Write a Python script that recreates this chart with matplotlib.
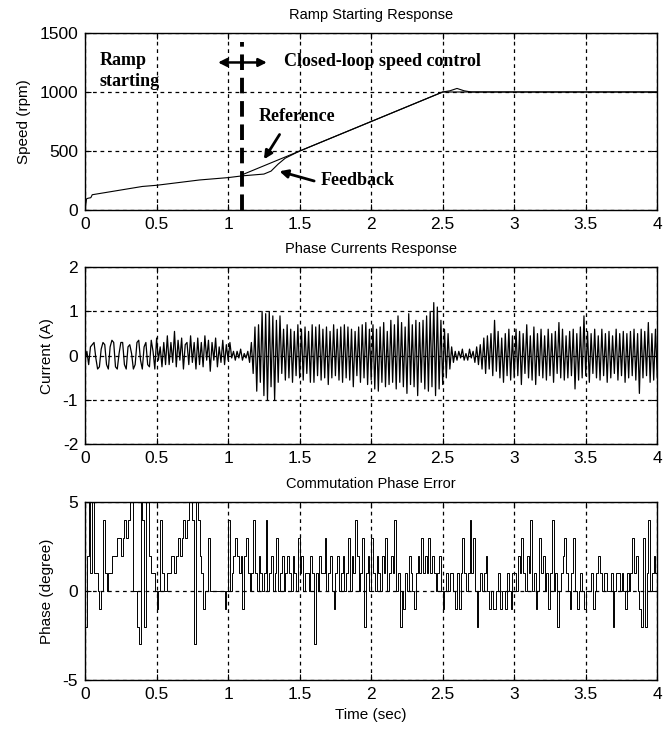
import numpy as np
import matplotlib
matplotlib.use("Agg")
import matplotlib.pyplot as plt

plt.rcParams['font.family'] = ['Liberation Sans Narrow', 'Liberation Sans', 'DejaVu Sans']
plt.rcParams['axes.unicode_minus'] = False

# Speed response (rpm), polyline vertices
fb_time = [0, 0.01, 0.02, 0.04, 0.05, 0.1, 0.2, 0.3, 0.35, 0.4, 0.5, 0.6, 0.7, 0.8,
           0.9, 1.0, 1.1, 1.2, 1.25, 1.3, 1.35, 1.4, 1.5, 1.7, 2.0, 2.2, 2.4, 2.5,
           2.55, 2.6, 2.65, 2.7, 3.0, 3.5, 4.0]
fb_speed = [0, 95, 100, 105, 130, 140, 160, 180, 190, 200, 210, 225, 240, 255,
            265, 275, 290, 300, 305, 330, 390, 440, 500, 600, 750, 850, 950, 1000,
            1010, 1030, 1010, 1000, 1000, 1000, 1000]
ref_time = [1.1, 2.5, 4.0]
ref_speed = [300, 1000, 1000]

# Phase current (A), sampled every 12.5 ms
current = [
    -0.1, 0.1, -0.2, 0.2, 0.25, 0.3, -0.05, -0.3, -0.25, 0.15, 0.3, 0.25, -0.2, -0.3, 0.2, 0.35,
    0.3, -0.25, -0.3, 0.05, 0.3, 0.3, -0.2, -0.3, 0.2, 0.25, 0.05, -0.3, -0.2, 0.3, 0.35, -0.1,
    -0.3, 0.2, 0.3, -0.2, -0.25, 0.35, 0.1, -0.3, 0.4, -0.1, 0.2, -0.25, 0.3, -0.2, 0.45, -0.2,
    0.3, -0.15, 0.55, -0.25, 0.35, -0.1, 0.4, -0.3, 0.25, 0.3, -0.2, 0.45, -0.15, 0.3, -0.3, 0.4,
    -0.2, 0.3, -0.25, 0.45, -0.1, 0.35, -0.35, 0.3, -0.1, 0.4, -0.25, 0.2, -0.15, 0.35, -0.2, 0.25,
    -0.1, 0.3, -0.05, 0.1, -0.1, 0.1, -0.05, 0.15, -0.1, 0.05, -0.05, 0.1, -0.15, 0.3, -0.4, 0.65,
    -0.8, 0.7, -0.6, 1.0, -0.9, 0.95, -1.0, 1.0, -0.7, 0.9, -1.0, 0.8, -0.6, 0.9, -0.4, 0.6,
    -0.55, 0.7, -0.5, 0.6, -0.6, 0.55, -0.45, 0.7, -0.5, 0.6, -0.55, 0.65, -0.4, 0.55, -0.6, 0.7,
    -0.6, 0.65, -0.45, 0.7, -0.55, 0.6, -0.5, 0.65, -0.65, 0.55, -0.5, 0.7, -0.45, 0.6, -0.55, 0.65,
    -0.6, 0.7, -0.5, 0.65, -0.55, 0.6, -0.7, 0.55, -0.45, 0.65, -0.6, 0.7, -0.5, 0.75, -0.65, 0.6,
    -0.55, 0.7, -0.75, 0.6, -0.8, 0.65, -0.6, 0.75, -0.7, 0.55, -0.65, 0.8, -0.6, 0.7, -0.75, 0.9,
    -0.6, 0.75, -0.7, 0.65, -0.85, 0.95, -0.65, 0.7, -0.7, 0.8, -0.9, 0.75, -0.6, 0.8, -0.75, 0.9,
    -0.8, 1.0, -0.7, 1.2, -0.9, 1.1, -0.75, 0.8, -0.65, 0.6, -0.5, 0.5, -0.3, 0.2, -0.15, 0.1,
    -0.1, 0.1, -0.05, 0.15, -0.1, 0.05, -0.1, 0.15, -0.05, 0.1, -0.15, 0.2, -0.2, 0.25, -0.3, 0.4,
    -0.4, 0.45, -0.3, 0.5, -0.45, 0.8, -0.35, 0.55, -0.5, 0.4, -0.6, 0.5, -0.45, 0.6, -0.55, 0.45,
    -0.5, 0.6, -0.45, 0.55, -0.65, 0.5, -0.4, 0.7, -0.5, 0.45, -0.55, 0.65, -0.65, 0.5, -0.45, 0.6,
    -0.5, 0.45, -0.55, 0.6, -0.45, 0.5, -0.6, 0.55, -0.4, 0.75, -0.5, 0.6, -0.55, 0.45, -0.5, 0.55,
    -0.45, 0.6, -0.75, 0.5, -0.55, 0.65, -0.5, 0.9, -0.45, 0.55, -0.6, 0.5, -0.4, 0.6, -0.5, 0.45,
    -0.55, 0.6, -0.45, 0.5, -0.6, 0.55, -0.5, 0.45, -0.4, 0.6, -0.55, 0.5, -0.45, 0.55, -0.6, 0.5,
    -0.5, 0.55, -0.45, 0.6, -0.55, 0.5, -0.85, 0.6, -0.5, 0.55, -0.45, 0.75, -0.6, 0.5, -0.55, 0.6,
    -0.5,
]

# Commutation phase error (degree), sampled every 12.5 ms
phase_err = [
    -2, 2, 5, 1, 5, 1, 1, 0, -1, 0, 4, 1, 0, 1, 1, 2,
    2, 2, 3, 3, 2, 3, 4, 3, 4, 5, 5, 0, 0, -2, -3, 5,
    4, -2, 5, 5, 2, 1, 1, 0, -1, 0, 4, 1, 0, 0, 1, 1,
    2, 2, 1, 2, 3, 2, 3, 4, 3, 4, 5, 5, 4, -3, 5, 4,
    2, 1, -1, 0, 0, 3, 0, 0, 0, 0, 0, 0, 0, 0, -1, 0,
    4, 0, 1, 2, 3, 2, 1, 2, -1, 2, 3, 1, 0, 1, 4, 1,
    0, 2, 1, 0, 1, 4, 0, 1, 2, 0, 1, 3, 0, 1, 2, 0,
    1, 2, 1, 0, 2, 1, 0, 3, 1, 2, 0, 1, 1, 0, 2, 1,
    -3, 1, 0, 2, 1, 1, 3, 0, 1, 2, 0, -1, 1, 2, 0, 1,
    2, 0, 1, 3, 0, 2, 1, 4, 2, 0, 1, 3, -2, 1, 2, 0,
    3, 1, 0, 2, 1, 0, 2, 1, 3, 0, 1, 2, 1, 4, 0, 1,
    -2, 0, -1, 1, 0, 2, 1, 0, -1, 1, 2, 1, 3, 1, 2, 1,
    3, 1, 2, 1, 0, 1, 2, 0, -1, 0, 1, 0, 1, 1, 0, -1,
    1, -1, 1, 3, 1, 0, 1, 4, 1, 3, 0, -2, 0, 1, 0, 1,
    2, 0, -1, 0, -1, -1, 0, 1, -1, 0, 0, -1, 1, 0, -1, 1,
    1, 0, 2, 1, 3, 1, 0, 2, 1, 4, 0, 1, -1, 0, 3, 1,
    2, 0, 1, -1, 1, 4, 0, 1, -2, 0, 1, 2, 3, 1, 0, -1,
    1, 3, 0, -1, 0, 1, 0, -1, 0, 0, 0, 1, -1, 0, 1, 2,
    1, 0, 1, 1, 0, 0, 1, -2, 0, 1, 1, 0, 1, 0, -1, 1,
    0, 1, 3, 1, 2, 0, -1, -2, 3, -2, 1, 4, 0, 1, 2, 1,
    0,
]

dt = 0.0125
t_cur = np.arange(len(current)) * dt
t_ph = np.arange(len(phase_err)) * dt

x_ticks = [0, 0.5, 1, 1.5, 2, 2.5, 3, 3.5, 4]
x_labels = ['0', '0.5', '1', '1.5', '2', '2.5', '3', '3.5', '4']

fig = plt.figure(figsize=(6.7, 7.32), dpi=100)
ax1 = fig.add_axes([0.127, 0.713, 0.854, 0.242])
ax2 = fig.add_axes([0.127, 0.393, 0.854, 0.242])
ax3 = fig.add_axes([0.127, 0.071, 0.854, 0.243])


def style(ax, yticks, ylabel, title):
    ax.set_xlim(0, 4)
    ax.set_xticks(x_ticks)
    ax.set_xticklabels(x_labels)
    ax.set_yticks(yticks)
    ax.set_ylim(yticks[0], yticks[-1])
    ax.grid(True, color='black', linestyle=(0, (3, 3)), linewidth=0.9)
    ax.tick_params(direction='in', length=4, labelsize=12.5, top=True, right=True, pad=5)
    for s in ax.spines.values():
        s.set_linewidth(1.0)
    ax.set_ylabel(ylabel, fontsize=11, labelpad=6)
    ax.set_title(title, fontsize=10.5, pad=10)


# Speed panel
ax1.plot(fb_time, fb_speed, color='black', linewidth=0.8)
ax1.plot(ref_time, ref_speed, color='black', linewidth=0.8)
style(ax1, [0, 500, 1000, 1500], 'Speed (rpm)', 'Ramp Starting Response')

ax1.axvline(1.1, ymax=0.95, color='black', linewidth=2.8, linestyle=(0, (4, 2)))
ax1.annotate('', xy=(0.91, 1250), xytext=(1.29, 1250),
             arrowprops=dict(arrowstyle='<|-|>', color='black', lw=1.8, mutation_scale=12))
serif = dict(family='Liberation Serif', fontweight='bold', fontsize=13)
ax1.text(0.1, 1265, 'Ramp', va='center', ha='left', **serif)
ax1.text(0.1, 1090, 'starting', va='center', ha='left', **serif)
ax1.text(1.39, 1255, 'Closed-loop speed control', va='center', ha='left', **serif)
ax1.text(1.21, 790, 'Reference', va='center', ha='left', **serif)
ax1.text(1.65, 250, 'Feedback', va='center', ha='left', **serif)
ax1.annotate('', xy=(1.24, 410), xytext=(1.37, 660),
             arrowprops=dict(arrowstyle='-|>', color='black', lw=2.0, mutation_scale=12))
ax1.annotate('', xy=(1.34, 335), xytext=(1.62, 240),
             arrowprops=dict(arrowstyle='-|>', color='black', lw=2.0, mutation_scale=12))

# Current panel
ax2.plot(t_cur, current, color='black', linewidth=0.9)
style(ax2, [-2, -1, 0, 1, 2], 'Current (A)', 'Phase Currents Response')

# Phase error panel
ax3.plot(t_ph, phase_err, color='black', linewidth=0.7, drawstyle='steps-post')
style(ax3, [-5, 0, 5], 'Phase (degree)', 'Commutation Phase Error')
ax3.set_xlabel('Time (sec)', fontsize=11)

fig.savefig('out.png', dpi=100)
